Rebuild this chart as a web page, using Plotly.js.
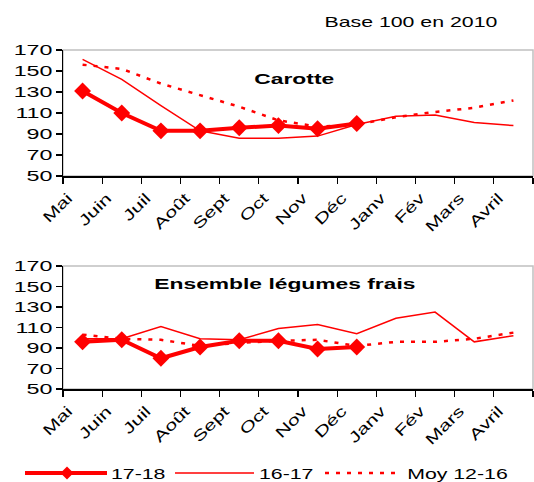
<!DOCTYPE html>
<html>
<head>
<meta charset="utf-8">
<script src="https://cdn.plot.ly/plotly-3.0.1.min.js"></script>
<style>
html, body { margin: 0; padding: 0; background: #fff; }
#chart { width: 534px; height: 482px; }
</style>
</head>
<body>
<div id="chart"></div>
<script>
// ---- Data ----
const months = ['Mai','Juin','Juil','Août','Sept','Oct','Nov','Déc','Janv','Fév','Mars','Avril'];
const yTicks = [50, 70, 90, 110, 130, 150, 170];

const carotte1718 = [131, 110, 93, 93, 96, 98, 95, 100];
const carotte1617 = [161, 142, 117, 93, 86, 86, 88, 99, 107, 108, 101, 98];
const carotteMoy  = [156, 152, 138, 127, 116, 103, 97, 99, 106, 111, 115, 122];

const legumes1718 = [96, 98, 80, 91, 97, 97, 89, 91];
const legumes1617 = [99, 99, 111, 99, 98, 109, 113, 104, 119, 125, 96, 102];
const legumesMoy  = [103, 99, 98, 92, 95, 97, 98, 92, 96, 96, 99, 105];

const seriesNames = ['17-18', '16-17', 'Moy 12-16'];
const titles = ['Carotte', 'Ensemble légumes frais'];
const note = 'Base 100 en 2010';

// ---- Helpers ----
const RED = '#ff0000';
const xs = arr => arr.map((_, i) => i + 0.5);

function makeTraces(s1718, s1617, sMoy, xa, ya) {
  return [
    { x: xs(sMoy), y: sMoy, xaxis: xa, yaxis: ya, mode: 'lines', name: seriesNames[2],
      line: { color: RED, width: 2.5, dash: '4px,7px' }, showlegend: false, hoverinfo: 'skip' },
    { x: xs(s1617), y: s1617, xaxis: xa, yaxis: ya, mode: 'lines', name: seriesNames[1],
      line: { color: RED, width: 1.5 }, showlegend: false, hoverinfo: 'skip' },
    { x: xs(s1718), y: s1718, xaxis: xa, yaxis: ya, mode: 'lines+markers', name: seriesNames[0],
      line: { color: RED, width: 4 }, marker: { symbol: 'diamond', size: 13, color: RED },
      showlegend: false, hoverinfo: 'skip' }
  ];
}

const data = [
  ...makeTraces(carotte1718, carotte1617, carotteMoy, 'x', 'y'),
  ...makeTraces(legumes1718, legumes1617, legumesMoy, 'x2', 'y2')
];

const tickvalsX = months.map((_, i) => i).concat([12]);
const ticktextX = months.concat(['']);

function xAxis(anchor) {
  return {
    anchor: anchor, domain: [0, 1], range: [0, 12],
    tickmode: 'array', tickvals: tickvalsX, ticktext: ticktextX, tickangle: -45,
    ticks: 'outside', ticklen: 6, tickwidth: 1.2, tickcolor: '#000',
    showline: true, linecolor: '#000', linewidth: 1.5,
    showgrid: false, zeroline: false, fixedrange: true,
    ticklabelshift: 5,
    tickfont: { size: 15, color: '#000' }
  };
}
function yAxis(anchor, domain) {
  return {
    anchor: anchor, domain: domain, range: [50, 170],
    tickmode: 'array', tickvals: yTicks, ticktext: yTicks.map(String),
    ticks: 'outside', ticklen: 6, tickwidth: 1.2, tickcolor: '#000',
    showline: true, linecolor: '#000', linewidth: 1.5,
    showgrid: false, zeroline: false, fixedrange: true,
    tickfont: { size: 15, color: '#000' }
  };
}

// pixel helpers for the hand-drawn legend (paper coordinates)
const L = 63, R = 1, T = 50, B = 93, W = 534, H = 482;
const pw = W - L - R, ph = H - T - B;
const px = p => (p - L) / pw;
const py = p => (H - B - p) / ph;

const legY = 473;
const dX = 6.5 / pw, dY = 6.5 / ph;
const dcx = px(67), dcy = py(legY);

const shapes = [
  { type: 'rect', xref: 'x domain', yref: 'y domain', x0: 0, x1: 1, y0: 0, y1: 1,
    line: { color: '#c0c0c0', width: 1.5 }, layer: 'below' },
  { type: 'rect', xref: 'x2 domain', yref: 'y2 domain', x0: 0, x1: 1, y0: 0, y1: 1,
    line: { color: '#c0c0c0', width: 1.5 }, layer: 'below' },
  { type: 'line', xref: 'paper', yref: 'paper', x0: px(25), x1: px(107), y0: py(legY), y1: py(legY),
    line: { color: RED, width: 4 } },
  { type: 'path', xref: 'paper', yref: 'paper',
    path: `M ${dcx - dX} ${dcy} L ${dcx} ${dcy + dY} L ${dcx + dX} ${dcy} L ${dcx} ${dcy - dY} Z`,
    fillcolor: RED, line: { color: RED, width: 0 } },
  { type: 'line', xref: 'paper', yref: 'paper', x0: px(175), x1: px(254), y0: py(legY), y1: py(legY),
    line: { color: RED, width: 1.5 } },
  { type: 'line', xref: 'paper', yref: 'paper', x0: px(325), x1: px(398), y0: py(legY), y1: py(legY),
    line: { color: RED, width: 2.5, dash: '4px,7px' } }
];

const annotations = [
  { text: '<b>' + titles[0] + '</b>', xref: 'x domain', yref: 'y domain', x: 0.4915, y: 0.77,
    xanchor: 'center', yanchor: 'middle', showarrow: false, font: { size: 15, color: '#000' } },
  { text: '<b>' + titles[1] + '</b>', xref: 'x2 domain', yref: 'y2 domain', x: 0.472, y: 0.854,
    xanchor: 'center', yanchor: 'middle', showarrow: false, font: { size: 15, color: '#000' } },
  { text: note, xref: 'paper', yref: 'paper', x: px(410.5), y: py(22),
    xanchor: 'center', yanchor: 'middle', showarrow: false, font: { size: 15, color: '#000' } },
  { text: seriesNames[0], xref: 'paper', yref: 'paper', x: px(137.5), y: py(legY),
    xanchor: 'center', yanchor: 'middle', showarrow: false, font: { size: 15, color: '#000' } },
  { text: seriesNames[1], xref: 'paper', yref: 'paper', x: px(286), y: py(legY),
    xanchor: 'center', yanchor: 'middle', showarrow: false, font: { size: 15, color: '#000' } },
  { text: seriesNames[2], xref: 'paper', yref: 'paper', x: px(457.5), y: py(legY),
    xanchor: 'center', yanchor: 'middle', showarrow: false, font: { size: 15, color: '#000' } }
];

const layout = {
  width: W, height: H,
  margin: { l: L, r: R, t: T, b: B, pad: 0 },
  paper_bgcolor: '#ffffff', plot_bgcolor: '#ffffff',
  font: { family: '"Liberation Sans", Arial, sans-serif', color: '#000' },
  showlegend: false,
  xaxis: xAxis('y'),
  yaxis: yAxis('x', [py(176), 1]),
  xaxis2: xAxis('y2'),
  yaxis2: yAxis('x2', [0, py(266)]),
  shapes: shapes,
  annotations: annotations
};

const gd = document.getElementById('chart');
Plotly.newPlot(gd, data, layout, { displayModeBar: false, staticPlot: true }).then(() => {
  // the source chart uses horizontally widened lettering: widen glyphs to match
  gd.querySelectorAll('.main-svg text').forEach(t => {
    const len = t.getComputedTextLength();
    if (!len) return;
    const p = t.parentNode;
    const isY = p && p.classList && (p.classList.contains('ytick') || p.classList.contains('y2tick'));
    const isBold = !!t.querySelector('tspan[style*="bold"]');
    const f = isY ? 1.55 : (isBold ? 1.52 : 1.42);
    t.setAttribute('textLength', (len * f).toFixed(1));
    t.setAttribute('lengthAdjust', 'spacingAndGlyphs');
  });
});
</script>
</body>
</html>
